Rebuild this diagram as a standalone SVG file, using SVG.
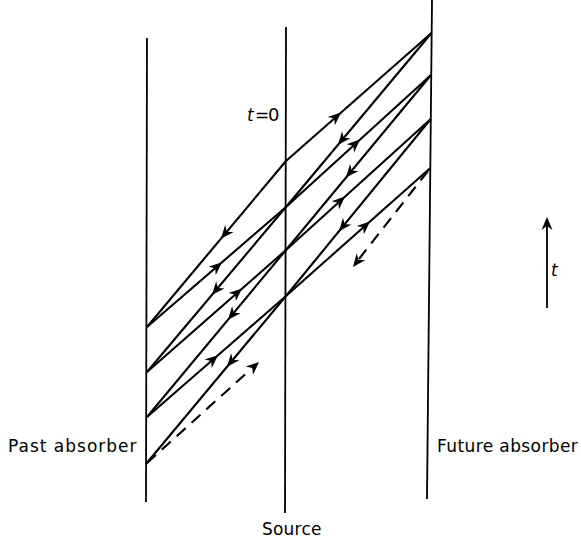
<svg xmlns="http://www.w3.org/2000/svg" width="581" height="541" viewBox="0 0 581 541">
<style>
.ax{stroke:#000;stroke-width:1.8;fill:none}
.ln{stroke:#000;stroke-width:2.1;fill:none;stroke-linejoin:round}
.ds{stroke:#000;stroke-width:2.1;fill:none;stroke-dasharray:12 8}
.lbl{font-family:"DejaVu Sans",sans-serif;font-size:17px;fill:#000}
.it{font-family:"DejaVu Sans",sans-serif;font-size:17px;font-style:italic;fill:#000}
</style>
<defs>
<path id="ah" d="M0,0 L-13,-5.5 L-9,0 L-13,5.5 Z" fill="#000"/>
</defs>
<rect width="581" height="541" fill="#fff"/>
<g id="past-absorber">
<line class="ax" x1="147" y1="38" x2="146" y2="502"/>
<text class="lbl" x="8" y="452" letter-spacing="1">Past absorber</text>
</g>
<g id="source">
<line class="ax" x1="286" y1="27" x2="285" y2="513"/>
<text class="lbl" x="262" y="535" letter-spacing="0.2">Source</text>
<text class="lbl" x="247" y="121"><tspan class="it">t</tspan><tspan x="255">=</tspan><tspan x="268" font-size="18">0</tspan></text>
</g>
<g id="future-absorber">
<line class="ax" x1="432" y1="0" x2="427" y2="499"/>
<text class="lbl" x="437" y="452" letter-spacing="0.4">Future absorber</text>
</g>
<g id="time-axis">
<line class="ax" x1="547" y1="308" x2="547" y2="226"/>
<use href="#ah" transform="translate(547,217) rotate(-90)"/>
<text class="it" x="551" y="276">t</text>
</g>
<g id="connectors">
<polyline class="ln" points="286,161 431.5,33"/>
<polyline class="ln" points="147,327 286,207 431,75"/>
<polyline class="ln" points="147,372 286,250 430.8,119"/>
<polyline class="ln" points="147,417 286,296 430.3,168"/>
<polyline class="ln" points="286,161 147,327"/>
<polyline class="ln" points="431.5,33 286,207 147,372"/>
<polyline class="ln" points="431,75 286,250 147,417"/>
<polyline class="ln" points="430.8,119 286,296 146,464"/>
<line class="ds" x1="147" y1="463" x2="250" y2="370" stroke-dasharray="42 8 12 8 12 8 12 8"/>
<line class="ds" x1="428" y1="171" x2="359" y2="259"/>
<use href="#ah" transform="translate(341,112.6) rotate(-41.4)"/>
<use href="#ah" transform="translate(222,262.3) rotate(-40.8)"/>
<use href="#ah" transform="translate(360,139.6) rotate(-42.3)"/>
<use href="#ah" transform="translate(242,288.6) rotate(-41.3)"/>
<use href="#ah" transform="translate(345,196.6) rotate(-42.1)"/>
<use href="#ah" transform="translate(218,355.2) rotate(-41)"/>
<use href="#ah" transform="translate(370,221.5) rotate(-41.6)"/>
<use href="#ah" transform="translate(259,362) rotate(-42)"/>
<use href="#ah" transform="translate(221,238.6) rotate(129.9)"/>
<use href="#ah" transform="translate(338,144.8) rotate(129.9)"/>
<use href="#ah" transform="translate(212,294.8) rotate(130.1)"/>
<use href="#ah" transform="translate(346,177.6) rotate(129.6)"/>
<use href="#ah" transform="translate(228,319.7) rotate(129.8)"/>
<use href="#ah" transform="translate(339,231.2) rotate(129.3)"/>
<use href="#ah" transform="translate(227,366.8) rotate(129.8)"/>
<use href="#ah" transform="translate(353,267) rotate(127.9)"/>
</g>
</svg>
